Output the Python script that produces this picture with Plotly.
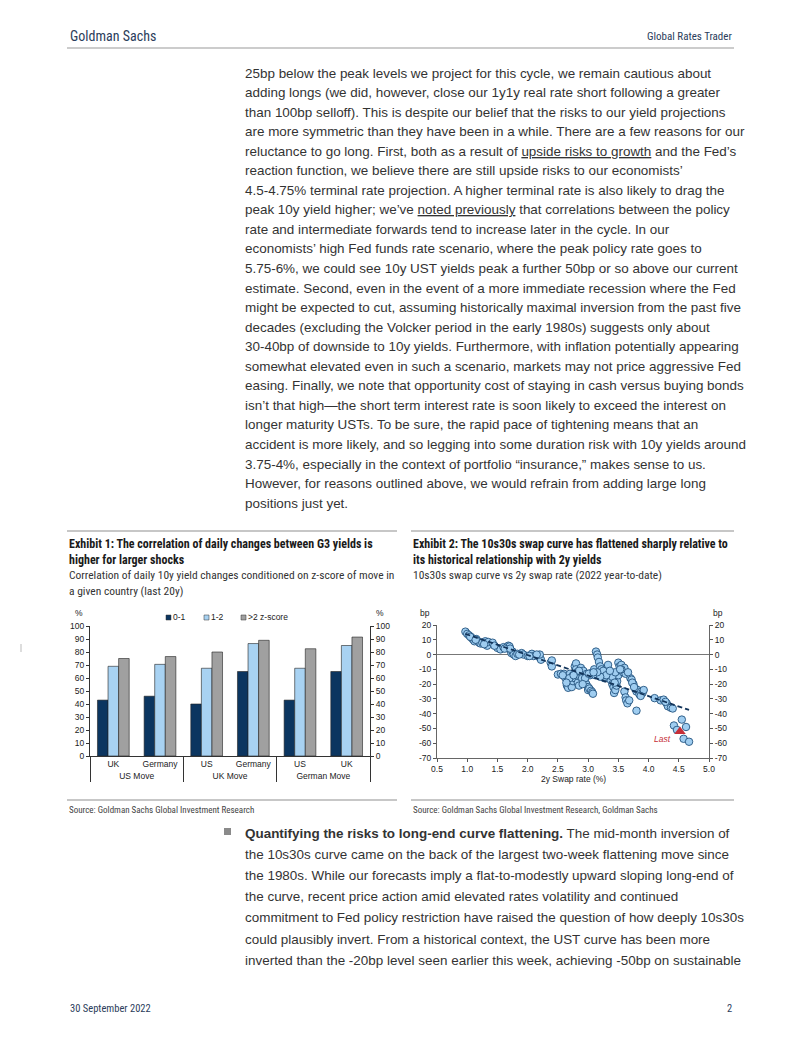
import plotly.graph_objects as go

# the page body adds an 8px margin, so the figure covers page pixels 8..802 / 8..1037
OFF = 8
W, H = 802 - OFF, 1037 - OFF

# ---------------- data ----------------
group_outer = ["US Move", "US Move", "UK Move", "UK Move", "German Move", "German Move"]
group_inner = ["UK", "Germany", "US", "Germany", "US", "UK"]
z_0_1 = [43, 46, 40, 65, 43, 65]
z_1_2 = [69, 70.5, 67.5, 86.5, 67.5, 85]
z_gt2 = [75, 76.5, 80, 89, 82.5, 91.5]
bar_yticks = [0, 10, 20, 30, 40, 50, 60, 70, 80, 90, 100]

swap_2y = [0.97, 1.0, 1.03, 1.06, 1.08, 1.1, 1.12, 1.15, 1.18, 1.2, 1.22, 1.25, 1.3, 1.32, 1.33,
           1.35, 1.42, 1.5, 1.55, 1.6, 1.65, 1.68, 1.7, 1.72, 1.73, 1.75, 1.77, 1.8, 1.83, 1.9,
           1.93, 2.0, 2.07, 2.1, 2.17, 2.2, 2.22, 2.2, 2.38, 2.4, 2.4,
           2.5, 2.55, 2.6, 2.62, 2.65, 2.67, 2.68, 2.7, 2.72, 2.73, 2.75, 2.78, 2.78, 2.8, 2.8,
           2.82, 2.83, 2.85, 2.87, 2.88, 2.9, 2.92, 2.93, 2.95, 2.97, 2.98, 3.0, 3.0, 3.02, 3.05,
           3.07, 3.08, 3.03, 3.05, 3.1, 3.12,
           3.13, 3.15, 3.16, 3.18, 3.2, 3.22, 3.25, 3.27, 3.3, 3.32, 3.33, 3.35, 3.37, 3.4, 3.42,
           3.43, 3.45, 3.47, 3.48, 3.5, 3.5, 3.52, 3.55, 3.57, 3.58, 3.6, 3.62, 3.6, 3.62, 3.63,
           3.65, 3.68, 3.7, 3.72, 3.75, 3.78, 3.8, 3.82, 3.85, 3.88, 3.9, 3.92, 3.8,
           4.1, 4.2, 4.25, 4.3, 4.32, 4.37, 4.4,
           4.42, 4.47, 4.55, 4.58, 4.62, 4.67,
           2.85, 2.9, 3.25, 3.28, 3.4, 3.45, 3.55, 3.3, 3.2, 2.75, 2.95, 3.15,
           1.05, 1.14, 1.28, 1.45, 1.62, 1.71, 1.86, 2.03, 2.15, 2.58, 2.69, 2.76, 2.91, 3.01,
           3.09, 3.36, 3.53, 3.66, 3.73, 3.76, 3.87, 4.28, 3.44, 2.64]
curve_10s30s = [15.5, 14, 13, 12, 11, 10, 9, 10.5, 9, 8, 7.5, 8, 9, 7, 6,
                8.5, 8, 4.5, 3.5, 5, 4.5, 6, 5.5, 3, 1, 2, 0, -1, 0.5, 1,
                0, -1, 0.5, -1, -0.5, -2, -3.5, 0, -5.5, -4, -8,
                -13.5, -13, -13, -15.5, -21, -22.5, -18, -13, -20.5, -22, -18, -16, -8, -6, -10,
                -12, -19, -21, -15, -9, -13, -11, -17, -19, -20, -13, -22, -24, -23, -24.5,
                -25.5, -26.5, -14, -12.5, -10, -14,
                2, 0, -2, -5, -8, -10, -13, -16, -12, -9, -7, -14, -17, -20, -22,
                -26, -24, -21, -18, -14, -5.5, -8, -7, -11, -12, -9, -13, -25, -29, -31,
                -33, -31, -16, -17, -20, -23, -25, -24, -27, -25, -26, -24, -38,
                -29.5, -31, -30.5, -33, -35, -36, -36.5,
                -48, -51, -44, -57, -49, -59,
                -11, -16, -11, -15, -15, -12, -10, -14, -15, -14, -16, -12,
                12, 10, 7, 6, 4, 4, 0, -1, 0, -14, -16, -14, -20, -13,
                -12, -11, -10, -12, -19, -22, -28, -32, -19, -19]
trend_x = [0.97, 4.67]
trend_y = [14, -37.5]
last_x = [4.52]
last_y = [-52]
sc_yticks = [20, 10, 0, -10, -20, -30, -40, -50, -60, -70]
sc_yticklabels = ["20", "10", "0", "-10", "-20", "-30", "-40", "-50", "-60", "-70"]

body_top = [
    "25bp below the peak levels we project for this cycle, we remain cautious about",
    "adding longs (we did, however, close our 1y1y real rate short following a greater",
    "than 100bp selloff). This is despite our belief that the risks to our yield projections",
    "are more symmetric than they have been in a while. There are a few reasons for our",
    "reluctance to go long. First, both as a result of <span style='text-decoration:underline'>upside risks to growth</span> and the Fed’s",
    "reaction function, we believe there are still upside risks to our economists’",
    "4.5-4.75% terminal rate projection. A higher terminal rate is also likely to drag the",
    "peak 10y yield higher; we’ve <span style='text-decoration:underline'>noted previously</span> that correlations between the policy",
    "rate and intermediate forwards tend to increase later in the cycle. In our",
    "economists’ high Fed funds rate scenario, where the peak policy rate goes to",
    "5.75-6%, we could see 10y UST yields peak a further 50bp or so above our current",
    "estimate. Second, even in the event of a more immediate recession where the Fed",
    "might be expected to cut, assuming historically maximal inversion from the past five",
    "decades (excluding the Volcker period in the early 1980s) suggests only about",
    "30-40bp of downside to 10y yields. Furthermore, with inflation potentially appearing",
    "somewhat elevated even in such a scenario, markets may not price aggressive Fed",
    "easing. Finally, we note that opportunity cost of staying in cash versus buying bonds",
    "isn’t that high—the short term interest rate is soon likely to exceed the interest on",
    "longer maturity USTs. To be sure, the rapid pace of tightening means that an",
    "accident is more likely, and so legging into some duration risk with 10y yields around",
    "3.75-4%, especially in the context of portfolio “insurance,” makes sense to us.",
    "However, for reasons outlined above, we would refrain from adding large long",
    "positions just yet.",
]
body_bottom = [
    "<b>Quantifying the risks to long-end curve flattening.</b> The mid-month inversion of",
    "the 10s30s curve came on the back of the largest two-week flattening move since",
    "the 1980s. While our forecasts imply a flat-to-modestly upward sloping long-end of",
    "the curve, recent price action amid elevated rates volatility and continued",
    "commitment to Fed policy restriction have raised the question of how deeply 10s30s",
    "could plausibly invert. From a historical context, the UST curve has been more",
    "inverted than the -20bp level seen earlier this week, achieving -50bp on sustainable",
]

# ---------------- helpers (page pixel -> paper fraction) ----------------
def px(x):
    return (x - OFF) / W

def py(y):
    return 1 - (y - OFF) / H

BODY = "Liberation Sans, Arial, sans-serif"
NARROW = "Liberation Sans Narrow, Roboto Condensed, DejaVu Sans Condensed, Liberation Sans, sans-serif"
NAVY = "#2b3d5b"

annotations = []
shapes = []

def text(x, y, s, size=13.45, color="#333333", family=BODY, anchor="left", **kw):
    annotations.append(dict(x=px(x), y=py(y), xref="paper", yref="paper", text=s,
                            showarrow=False, xanchor=anchor, yanchor="middle",
                            font=dict(size=size, color=color, family=family), **kw))

def hline(x0, x1, y, color="#b5b5b5", width=1.5):
    shapes.append(dict(type="line", xref="paper", yref="paper", x0=px(x0), x1=px(x1),
                       y0=py(y), y1=py(y), line=dict(color=color, width=width)))

# header / footer
text(68, 36, "Goldman Sachs", size=14, color=NAVY, family=NARROW)
text(734, 37, "Global Rates Trader", size=11, color=NAVY, family=NARROW, anchor="right")
hline(67, 734, 48, color="#bbbbbb", width=1.5)
text(68, 1008, "30 September 2022", size=10.5, color=NAVY, family=NARROW)
text(734, 1008, "2", size=10.5, color=NAVY, family=NARROW, anchor="right")

# page right edge and margin mark
shapes.append(dict(type="line", xref="paper", yref="paper", x0=px(801), x1=px(801), y0=0, y1=1,
                   line=dict(color="#9a9a9a", width=1)))
shapes.append(dict(type="line", xref="paper", yref="paper", x0=px(21), x1=px(21), y0=py(644), y1=py(652),
                   line=dict(color="#bbbbbb", width=1)))

# body text
for i, line in enumerate(body_top):
    text(243, 73 + i * 19.55, line)
for i, line in enumerate(body_bottom):
    text(243, 833 + i * 21.2, line)
shapes.append(dict(type="rect", xref="paper", yref="paper", x0=px(224), x1=px(231), y0=py(835), y1=py(828),
                   fillcolor="#8a8a8a", line=dict(width=0)))

# exhibit headers
hline(67, 397, 531)
hline(411, 734, 531)
hline(67, 397, 800)
hline(411, 734, 800)
TT = "#1a1a1a"
text(67, 544, "<b>Exhibit 1: The correlation of daily changes between G3 yields is</b>", size=12, color=TT, family=NARROW)
text(67, 560, "<b>higher for larger shocks</b>", size=12, color=TT, family=NARROW)
text(67, 575, "Correlation of daily 10y yield changes conditioned on z-score of move in", size=11.5, color="#333", family=NARROW)
text(67, 591, "a given country (last 20y)", size=11.5, color="#333", family=NARROW)
text(411, 544, "<b>Exhibit 2: The 10s30s swap curve has flattened sharply relative to</b>", size=12, color=TT, family=NARROW)
text(411, 560, "<b>its historical relationship with 2y yields</b>", size=12, color=TT, family=NARROW)
text(411, 575, "10s30s swap curve vs 2y swap rate (2022 year-to-date)", size=11.5, color="#333", family=NARROW)
text(67, 810, "Source: Goldman Sachs Global Investment Research", size=9, color="#444", family=NARROW)
text(411, 810, "Source: Goldman Sachs Global Investment Research, Goldman Sachs", size=9, color="#444", family=NARROW)

# axis unit labels
TICK = dict(size=8.5, color="#222", family=BODY)
text(73, 613, "%", size=8.5, color="#222")
text(374, 613, "%", size=8.5, color="#222")
text(418, 613, "bp", size=8.5, color="#222")
text(711, 613, "bp", size=8.5, color="#222")
text(573, 779, "2y Swap rate (%)", size=8.5, color="#222", anchor="center")

# legend for bar chart (manual)
leg_items = [("0-1", "#0b3560", 166), ("1-2", "#a8d2f2", 204), (">2 z-score", "#a0a0a0", 241)]
for lab, col, lx in leg_items:
    shapes.append(dict(type="rect", xref="paper", yref="paper", x0=px(lx), x1=px(lx + 5),
                       y0=py(620), y1=py(615), fillcolor=col, line=dict(color="#333", width=0.5)))
    text(lx + 5, 617, lab, size=8.5, color="#222")

# ---------------- traces ----------------
# make inner labels unique per group (zero-width suffix) so plotly keeps the given order
seen = {}
inner_keys = []
for lab in group_inner:
    seen[lab] = seen.get(lab, -1) + 1
    inner_keys.append(lab + "\u200b" * seen[lab])
xcat = [group_outer, inner_keys]

fig = go.Figure()
bar_line = dict(color="#222", width=0.6)
fig.add_trace(go.Bar(x=xcat, y=z_0_1, name="0-1", marker=dict(color="#0b3560", line=bar_line),
                     xaxis="x", yaxis="y"))
fig.add_trace(go.Bar(x=xcat, y=z_1_2, name="1-2", marker=dict(color="#a8d2f2", line=bar_line),
                     xaxis="x", yaxis="y"))
fig.add_trace(go.Bar(x=xcat, y=z_gt2, name=">2 z-score", marker=dict(color="#a0a0a0", line=bar_line),
                     xaxis="x", yaxis="y"))
fig.add_trace(go.Scatter(x=xcat, y=z_0_1, mode="markers", marker=dict(opacity=0),
                         hoverinfo="skip", xaxis="x", yaxis="y3", showlegend=False))

# scatter points, then trend line and last point drawn on the overlay axis (on top)
fig.add_trace(go.Scatter(x=swap_2y, y=curve_10s30s, mode="markers",
                         marker=dict(size=7.5, color="#9fcdf0", line=dict(color="#24537f", width=0.9)),
                         xaxis="x2", yaxis="y2"))
fig.add_trace(go.Scatter(x=swap_2y, y=curve_10s30s, mode="markers", marker=dict(opacity=0),
                         hoverinfo="skip", xaxis="x2", yaxis="y4", showlegend=False))
fig.add_trace(go.Scatter(x=trend_x, y=trend_y, mode="lines",
                         line=dict(color="#12345a", width=1.8, dash="5px,3px"),
                         xaxis="x2", yaxis="y4"))
fig.add_trace(go.Scatter(x=last_x, y=last_y, mode="markers",
                         marker=dict(size=10, symbol="triangle-up", color="#c62f38"),
                         xaxis="x2", yaxis="y4"))

annotations.append(dict(x=last_x[0] - 0.12, y=last_y[0] - 5, xref="x2", yref="y2", text="<i>Last</i>",
                        showarrow=False, xanchor="right", yanchor="middle",
                        font=dict(size=8.5, color="#c62f38", family=BODY)))

bar_dom_y = [py(756), py(626)]
sc_dom_y = [py(758), py(625)]
yax_common = dict(range=[0, 100], tickvals=bar_yticks, ticks="outside", ticklen=3, tickcolor="#333",
                  showline=True, linecolor="#333", linewidth=1, showgrid=False, zeroline=False,
                  tickfont=TICK, automargin=False)
sc_common = dict(range=[-70, 20], tickvals=sc_yticks, ticktext=sc_yticklabels, ticks="outside",
                 ticklen=3, tickcolor="#555", showline=True, linecolor="#666", linewidth=1,
                 showgrid=False, tickfont=TICK, automargin=False)

fig.update_layout(
    width=W, height=H, margin=dict(l=0, r=0, t=0, b=0, pad=0, autoexpand=False),
    paper_bgcolor="white", plot_bgcolor="white",
    showlegend=False, barmode="group", bargap=0.32, bargroupgap=0,
    xaxis=dict(domain=[px(90), px(370)], type="multicategory", anchor="y", automargin=False,
               showline=True, linecolor="#333", linewidth=1, ticks="", showgrid=False,
               showdividers=True, dividercolor="#333", dividerwidth=1, tickfont=TICK),
    yaxis=dict(domain=bar_dom_y, anchor="x", side="left", **yax_common),
    yaxis3=dict(overlaying="y", anchor="x", side="right", **yax_common),
    xaxis2=dict(domain=[px(437), px(709)], anchor="y2", range=[0.5, 5.0], dtick=0.5, tickformat=".1f",
                ticks="outside", ticklen=3, tickcolor="#555", showline=True, linecolor="#666",
                linewidth=1, showgrid=False, zeroline=False, tickfont=TICK, automargin=False),
    yaxis2=dict(domain=sc_dom_y, anchor="x2", side="left", zeroline=True, zerolinecolor="#777",
                zerolinewidth=1.2, **sc_common),
    yaxis4=dict(overlaying="y2", anchor="x2", side="right", zeroline=False, **sc_common),
    annotations=annotations, shapes=shapes,
)

fig.write_html("out.html")
